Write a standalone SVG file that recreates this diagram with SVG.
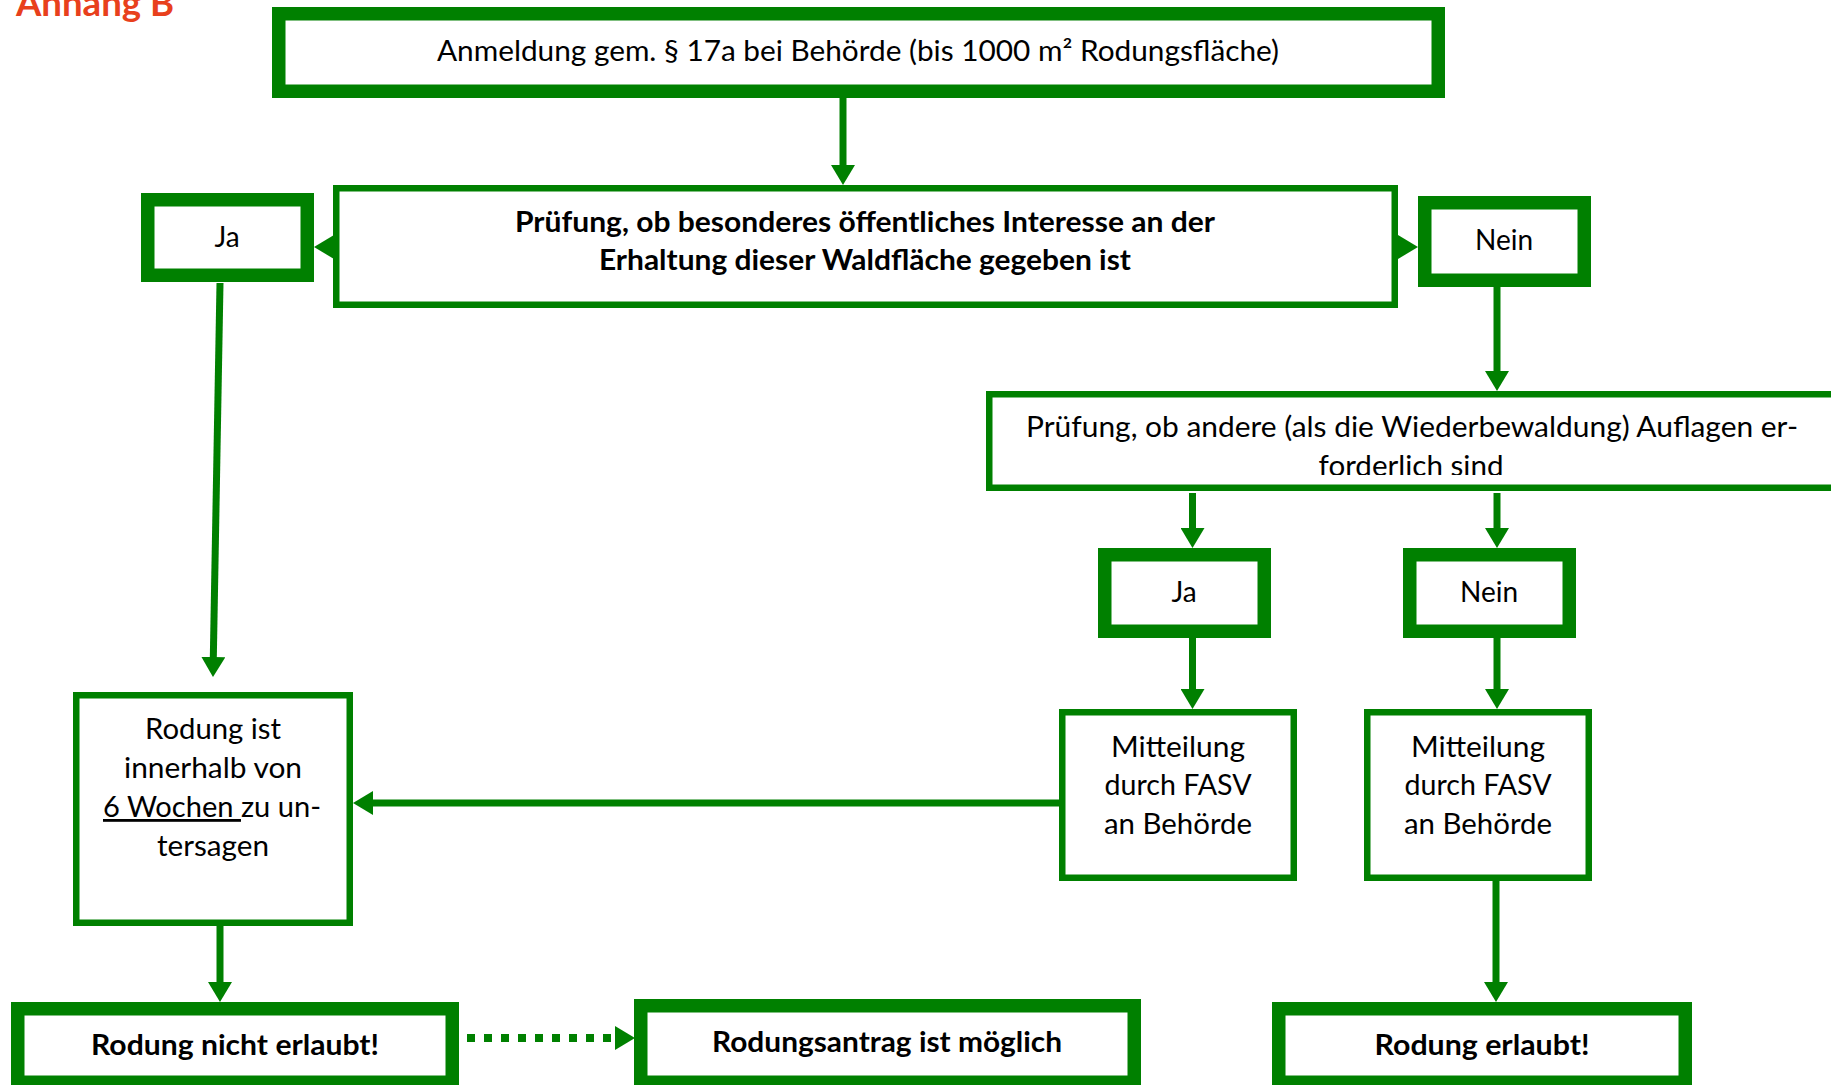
<svg xmlns="http://www.w3.org/2000/svg" width="1831" height="1085" viewBox="0 0 1831 1085">
<style>
  .thick { fill: #ffffff; stroke: #008000; stroke-width: 13.5; }
  .thin { fill: #ffffff; stroke: #008000; stroke-width: 6.5; }
  .t { font-family: Lato, "Open Sans", sans-serif; font-size: 28px; fill: #000000; text-anchor: middle; }
  .b { font-family: Lato, "Open Sans", sans-serif; font-size: 28px; font-weight: bold; fill: #000000; text-anchor: middle; }
  .conn { stroke: #008000; stroke-width: 7; fill: none; marker-end: url(#ah); }
  .dot { stroke: #008000; stroke-width: 8; fill: none; stroke-dasharray: 8 9; marker-end: url(#ah); }
  .title { font-family: Lato, "Open Sans", sans-serif; font-size: 36px; font-weight: bold; fill: #E8401C; }
</style>
<defs>
  <marker id="ah" viewBox="0 0 20 24" refX="2" refY="12" markerWidth="20" markerHeight="24" markerUnits="userSpaceOnUse" orient="auto">
    <path d="M0,0L20,12L0,24z" fill="#008000"/>
  </marker>
  <clipPath id="clip3">
    <rect x="986" y="391" width="900" height="84"/>
  </clipPath>
</defs>
<rect width="1831" height="1085" fill="#ffffff"/>

<text id="title" class="title" x="16" y="15.5" textLength="158" lengthAdjust="spacingAndGlyphs">Anhang B</text>

<g id="connectors">
  <line class="conn" x1="843" y1="97" x2="843" y2="167"/>
  <line class="conn" x1="334" y1="247" x2="332" y2="247"/>
  <line class="conn" x1="1398" y1="247" x2="1400" y2="247"/>
  <line class="conn" x1="220" y1="283" x2="213.3" y2="659"/>
  <line class="conn" x1="1497" y1="287" x2="1497" y2="373"/>
  <line class="conn" x1="1192.5" y1="493" x2="1192.5" y2="530"/>
  <line class="conn" x1="1497" y1="493" x2="1497" y2="530"/>
  <line class="conn" x1="1192.5" y1="638" x2="1192.5" y2="691"/>
  <line class="conn" x1="1497" y1="638" x2="1497" y2="691"/>
  <line class="conn" x1="1059" y1="803" x2="371" y2="803"/>
  <line class="conn" x1="1496" y1="881" x2="1496" y2="984"/>
  <line class="conn" x1="220" y1="926" x2="220" y2="984"/>
  <line class="dot" x1="467" y1="1038" x2="617" y2="1038"/>
</g>

<g id="n-anmeldung">
  <rect class="thick" x="278.75" y="13.75" width="1159.5" height="77.5"/>
  <text class="t" x="858" y="61" textLength="842" lengthAdjust="spacingAndGlyphs">Anmeldung gem. § 17a bei Behörde (bis 1000 m² Rodungsfläche)</text>
</g>

<g id="n-pruefung1">
  <rect class="thin" x="336.25" y="188.25" width="1058.5" height="116.5"/>
  <text class="b" x="865" y="232" textLength="700" lengthAdjust="spacingAndGlyphs">Prüfung, ob besonderes öffentliches Interesse an der</text>
  <text class="b" x="865" y="270" textLength="532" lengthAdjust="spacingAndGlyphs">Erhaltung dieser Waldfläche gegeben ist</text>
</g>

<g id="n-ja1">
  <rect class="thick" x="147.75" y="199.75" width="159.5" height="75.5"/>
  <text class="t" x="227" y="247">Ja</text>
</g>

<g id="n-nein1">
  <rect class="thick" x="1424.75" y="202.75" width="159.5" height="77.5"/>
  <text class="t" x="1504" y="250">Nein</text>
</g>

<g id="n-pruefung2">
  <rect class="thin" x="989.25" y="394.25" width="845.5" height="93.5"/>
  <g clip-path="url(#clip3)">
    <text class="t" x="1412" y="437" textLength="772" lengthAdjust="spacingAndGlyphs">Prüfung, ob andere (als die Wiederbewaldung) Auflagen er-</text>
    <text class="t" x="1411" y="476" textLength="185" lengthAdjust="spacingAndGlyphs">forderlich sind</text>
  </g>
</g>

<g id="n-ja2">
  <rect class="thick" x="1104.75" y="554.75" width="159.5" height="76.5"/>
  <text class="t" x="1184" y="602">Ja</text>
</g>

<g id="n-nein2">
  <rect class="thick" x="1409.75" y="554.75" width="159.5" height="76.5"/>
  <text class="t" x="1489" y="602">Nein</text>
</g>

<g id="n-untersagen">
  <rect class="thin" x="76.25" y="695.25" width="273.5" height="227.5"/>
  <text class="t" x="213" y="739" textLength="136" lengthAdjust="spacingAndGlyphs">Rodung ist</text>
  <text class="t" x="213" y="778" textLength="178" lengthAdjust="spacingAndGlyphs">innerhalb von</text>
  <text class="t" x="212" y="817" textLength="218" lengthAdjust="spacingAndGlyphs"><tspan text-decoration="underline">6 Wochen </tspan>zu un-</text>
  <text class="t" x="213" y="856" textLength="112" lengthAdjust="spacingAndGlyphs">tersagen</text>
</g>

<g id="n-mitteilung1">
  <rect class="thin" x="1062.25" y="712.25" width="231.5" height="165.5"/>
  <text class="t" x="1178" y="757" textLength="134" lengthAdjust="spacingAndGlyphs">Mitteilung</text>
  <text class="t" x="1178" y="795" textLength="147" lengthAdjust="spacingAndGlyphs">durch FASV</text>
  <text class="t" x="1178" y="834" textLength="148" lengthAdjust="spacingAndGlyphs">an Behörde</text>
</g>

<g id="n-mitteilung2">
  <rect class="thin" x="1367.25" y="712.25" width="221.5" height="165.5"/>
  <text class="t" x="1478" y="757" textLength="134" lengthAdjust="spacingAndGlyphs">Mitteilung</text>
  <text class="t" x="1478" y="795" textLength="147" lengthAdjust="spacingAndGlyphs">durch FASV</text>
  <text class="t" x="1478" y="834" textLength="148" lengthAdjust="spacingAndGlyphs">an Behörde</text>
</g>

<g id="n-nicht-erlaubt">
  <rect class="thick" x="17.75" y="1008.75" width="434.5" height="73.5"/>
  <text class="b" x="235" y="1055" textLength="288" lengthAdjust="spacingAndGlyphs">Rodung nicht erlaubt!</text>
</g>

<g id="n-antrag">
  <rect class="thick" x="640.75" y="1005.75" width="493.5" height="76.5"/>
  <text class="b" x="887" y="1052" textLength="350" lengthAdjust="spacingAndGlyphs">Rodungsantrag ist möglich</text>
</g>

<g id="n-erlaubt">
  <rect class="thick" x="1278.75" y="1008.75" width="406.5" height="73.5"/>
  <text class="b" x="1482" y="1055" textLength="215" lengthAdjust="spacingAndGlyphs">Rodung erlaubt!</text>
</g>
</svg>
